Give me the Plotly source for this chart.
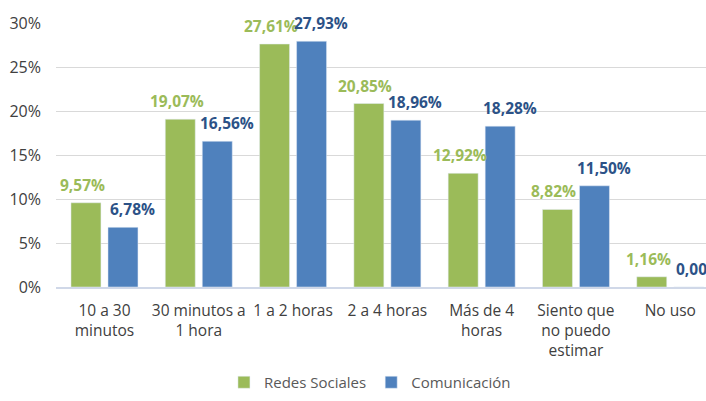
import plotly.graph_objects as go

categorias = ["10 a 30<br>minutos", "30 minutos a<br>1 hora", "1 a 2 horas", "2 a 4 horas",
              "Más de 4<br>horas", "Siento que<br>no puedo<br>estimar", "No uso"]
redes = [9.57, 19.07, 27.61, 20.85, 12.92, 8.82, 1.16]
comunicacion = [6.78, 16.56, 27.93, 18.96, 18.28, 11.50, 0.00]
y_ticks = [0, 5, 10, 15, 20, 25, 30]

verde = "#9BBB59"
azul = "#4F81BD"
font_name = "Open Sans"

def fmt(v):
    return f"{v:.2f}".replace(".", ",") + "%"

fig = go.Figure(data=[
    go.Bar(x=categorias, y=redes, name="Redes Sociales", marker_color=verde),
    go.Bar(x=categorias, y=comunicacion, name="Comunicación", marker_color=azul),
])

# etiquetas de datos (como en Excel, un poco separadas de la barra)
annots = []
for i, c in enumerate(categorias):
    annots.append(dict(x=c, y=redes[i], xref="x", yref="y", text=fmt(redes[i]),
                       showarrow=False, yanchor="bottom", xshift=-22, yshift=5,
                       font=dict(size=15.5, color=verde, family=font_name, weight="bold")))
    annots.append(dict(x=c, y=comunicacion[i], xref="x", yref="y", text=fmt(comunicacion[i]),
                       showarrow=False, yanchor="bottom", xshift=28, yshift=5,
                       font=dict(size=15.5, color="#2C5287", family=font_name, weight="bold")))

fig.update_layout(
    width=706, height=401,
    margin=dict(l=56, r=0, t=23, b=114),
    paper_bgcolor="white", plot_bgcolor="white",
    barmode="group", bargap=0.215, bargroupgap=0.19,
    font=dict(family=font_name, size=15, color="#404040"),
    annotations=annots,
    # leyenda referida al contenedor para que no empuje el margen inferior
    legend=dict(orientation="h", x=0.483, xanchor="center",
                yref="container", y=0.005, yanchor="bottom",
                font=dict(size=15, color="#595959"), itemwidth=30),
    showlegend=True,
)
fig.update_yaxes(range=[0, 30], tickvals=y_ticks, ticktext=[f"{t}%" for t in y_ticks],
                 showgrid=True, gridcolor="#D9D9D9", zeroline=False, showline=False,
                 tickfont=dict(size=16, color="#404040"), ticks="", ticklabelstandoff=14,
                 automargin=False)
# el gráfico original está recortado a la derecha
fig.update_xaxes(range=[-0.514, 6.379], showline=True, linecolor="#D0D8E8", linewidth=2,
                 ticks="", tickfont=dict(size=15.5, color="#404040"), tickangle=0,
                 ticklabelstandoff=8, automargin=False)

# sin el margen por defecto del body para que la figura ocupe toda la ventana
fig.write_html("out.html", config={"displayModeBar": False},
               post_script="document.body.style.margin='0px';")
